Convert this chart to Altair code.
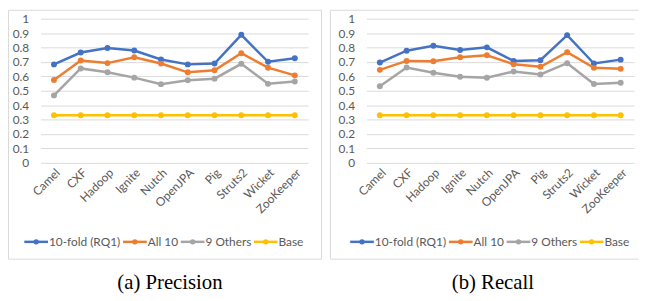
import altair as alt
import pandas as pd

projects = ["Camel", "CXF", "Hadoop", "Ignite", "Nutch", "OpenJPA", "Pig", "Struts2", "Wicket", "ZooKeeper"]
series = ["10-fold (RQ1)", "All 10", "9 Others", "Base"]
colors = ["#4472C4", "#ED7D31", "#A5A5A5", "#FFC000"]

prec_10fold = [0.683, 0.765, 0.797, 0.779, 0.717, 0.683, 0.689, 0.888, 0.701, 0.726]
prec_all10 = [0.575, 0.710, 0.692, 0.733, 0.689, 0.628, 0.642, 0.760, 0.660, 0.607]
prec_9others = [0.468, 0.655, 0.628, 0.591, 0.546, 0.573, 0.584, 0.687, 0.548, 0.564]
prec_base = [0.33, 0.33, 0.33, 0.33, 0.33, 0.33, 0.33, 0.33, 0.33, 0.33]

rec_10fold = [0.696, 0.778, 0.812, 0.783, 0.801, 0.707, 0.712, 0.886, 0.689, 0.716]
rec_all10 = [0.645, 0.707, 0.705, 0.732, 0.746, 0.684, 0.666, 0.767, 0.659, 0.652]
rec_9others = [0.531, 0.661, 0.625, 0.597, 0.590, 0.634, 0.613, 0.691, 0.547, 0.556]
rec_base = [0.33, 0.33, 0.33, 0.33, 0.33, 0.33, 0.33, 0.33, 0.33, 0.33]

y_ticks = [0, 0.1, 0.2, 0.3, 0.4, 0.5, 0.6, 0.7, 0.8, 0.9, 1]

FONT = "Lato"
GREY = "#595959"
BORDER = "#D9D9D9"

W, H = 271, 146
LEGEND_X = [-16.5, 83.5, 142, 216]   # start of each legend swatch (px from plot left)
LEGEND_Y = 226
SWATCH = 24


def make_df(vals):
    rows = []
    for s, v in zip(series, vals):
        for p, y in zip(projects, v):
            rows.append({"project": p, "series": s, "value": y})
    return pd.DataFrame(rows)


def panel(vals, caption, cap_x, box_left, box_right, right_open):
    df = make_df(vals)
    base = alt.Chart(df).encode(
        x=alt.X("project:N", sort=projects, title=None,
                axis=alt.Axis(labelAngle=-45, labelFont=FONT, labelFontSize=12,
                              labelColor=GREY, domain=False, ticks=False,
                              grid=False, labelPadding=4)),
        y=alt.Y("value:Q", title=None,
                scale=alt.Scale(domain=[0, 1], nice=False),
                axis=alt.Axis(values=y_ticks, format=".1~f", labelFont=FONT,
                              labelFontSize=12, labelColor=GREY, domain=False,
                              ticks=False, gridColor=BORDER, gridWidth=1,
                              labelPadding=12)),
        color=alt.Color("series:N", scale=alt.Scale(domain=series, range=colors),
                        legend=None),
    )
    points = base.mark_point(filled=True, size=36, opacity=1)
    lines = base.mark_line(strokeWidth=2.5)

    one = pd.DataFrame({"k": [0]})
    top_y, bot_y = -8.5, 243.5
    layers = [
        alt.Chart(one).mark_rule(color=BORDER, strokeWidth=1).encode(
            x=alt.value(box_left), x2=alt.value(box_right), y=alt.value(top_y)),
        alt.Chart(one).mark_rule(color=BORDER, strokeWidth=1).encode(
            x=alt.value(box_left), x2=alt.value(box_right), y=alt.value(bot_y)),
        alt.Chart(one).mark_rule(color=BORDER, strokeWidth=1).encode(
            x=alt.value(box_left), y=alt.value(top_y), y2=alt.value(bot_y)),
    ]
    if not right_open:
        layers.append(
            alt.Chart(one).mark_rule(color=BORDER, strokeWidth=1).encode(
                x=alt.value(box_right), y=alt.value(top_y), y2=alt.value(bot_y)))
    layers.append(
        alt.Chart(one).mark_text(text=caption, font="Liberation Serif", fontSize=21,
                                 color="black", align="center", baseline="alphabetic").encode(
            x=alt.value(cap_x), y=alt.value(274)))

    # legend: line swatch with a dot, then the label
    for name, col, x0 in zip(series, colors, LEGEND_X):
        layers.append(alt.Chart(one).mark_rule(color=col, strokeWidth=2.5).encode(
            x=alt.value(x0), x2=alt.value(x0 + SWATCH), y=alt.value(LEGEND_Y)))
        layers.append(alt.Chart(one).mark_point(filled=True, color=col, size=30, opacity=1).encode(
            x=alt.value(x0 + SWATCH / 2), y=alt.value(LEGEND_Y)))
        layers.append(alt.Chart(one).mark_text(text=name, font=FONT, fontSize=12, color=GREY,
                                               align="left", baseline="middle").encode(
            x=alt.value(x0 + SWATCH + 1), y=alt.value(LEGEND_Y)))

    return alt.layer(*layers, points, lines).properties(width=W, height=H)


left = panel([prec_10fold, prec_all10, prec_9others, prec_base], "(a) Precision", 131,
             -32.5, 284.5, False)
right = panel([rec_10fold, rec_all10, rec_9others, rec_base], "(b) Recall", 128,
              -36.5, 275.5, True)

chart = alt.hconcat(left, right, spacing=8).properties(
    padding={"left": 0, "top": 0, "right": 0, "bottom": 0}
).configure_view(stroke=None).resolve_scale(color="independent")

chart.save("out.html", embed_options={"renderer": "svg", "actions": False})
